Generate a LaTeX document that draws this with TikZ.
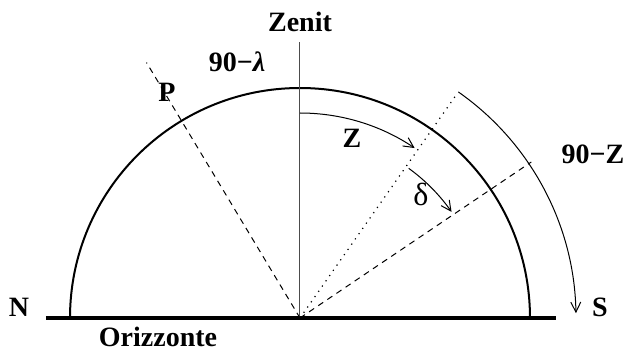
\documentclass[tikz,border=0pt]{standalone}
\usepackage{fontspec}
\setmainfont{Liberation Serif}
\usetikzlibrary{arrows.meta}

\tikzset{
  lbl/.style={font=\fontsize{14}{16}\selectfont\bfseries, inner sep=0pt, anchor=base},
  angarrow/.style={black, line width=0.5pt, -{Straight Barb[length=5pt, width=5pt]}},
  axisdash/.style={black, line width=0.5pt, dash pattern=on 3pt off 2.5pt}
}

\begin{document}
\begin{tikzpicture}[x=0.5pt,y=0.5pt]
\useasboundingbox (-300,-36) rectangle (328,318);
\coordinate (O) at (0,0);
\coordinate (zen) at (0,276);
\coordinate (pole) at (121:298);
\coordinate (star) at (55:273);
\coordinate (eq) at (34:279);
\coordinate (west) at (-254,0);
\coordinate (east) at (256,0);
% meridiano
\draw[black, line width=1pt] (230,0) arc[start angle=0, end angle=180, radius=230];
\draw[black, line width=1.6pt] (west) -- (east);
\draw[black!70, line width=0.5pt] (O) -- (zen);
\draw[axisdash] (O) -- (pole);
\draw[axisdash] (O) -- (eq);
\draw[black, line width=0.6pt, dash pattern=on 0.6pt off 2.6pt] (O) -- (star);
% angoli
\draw[angarrow] (90:205) arc[start angle=90, end angle=56, radius=205];
\draw[angarrow] (54:185) arc[start angle=54, end angle=35, radius=185];
\draw[angarrow] (55:276) arc[start angle=55, end angle=1, radius=276];
% etichette
\node[lbl] (zenit) at (0,286) {Zenit};
\node[lbl] (colat) at (-63,246) {90−\textit{λ}};
\node[lbl] (P) at (-133,216) {P};
\node[lbl] (Z) at (52,170) {Z};
\node[lbl, font=\fontsize{16}{18}\selectfont] (delta) at (121,112) {δ};
\node[lbl] (alt) at (293,154) {90−Z};
\node[lbl] (S) at (300,1) {S};
\node[lbl] (N) at (-281,1) {N};
\node[lbl] (oriz) at (-142,-29) {Orizzonte};
\end{tikzpicture}
\end{document}
